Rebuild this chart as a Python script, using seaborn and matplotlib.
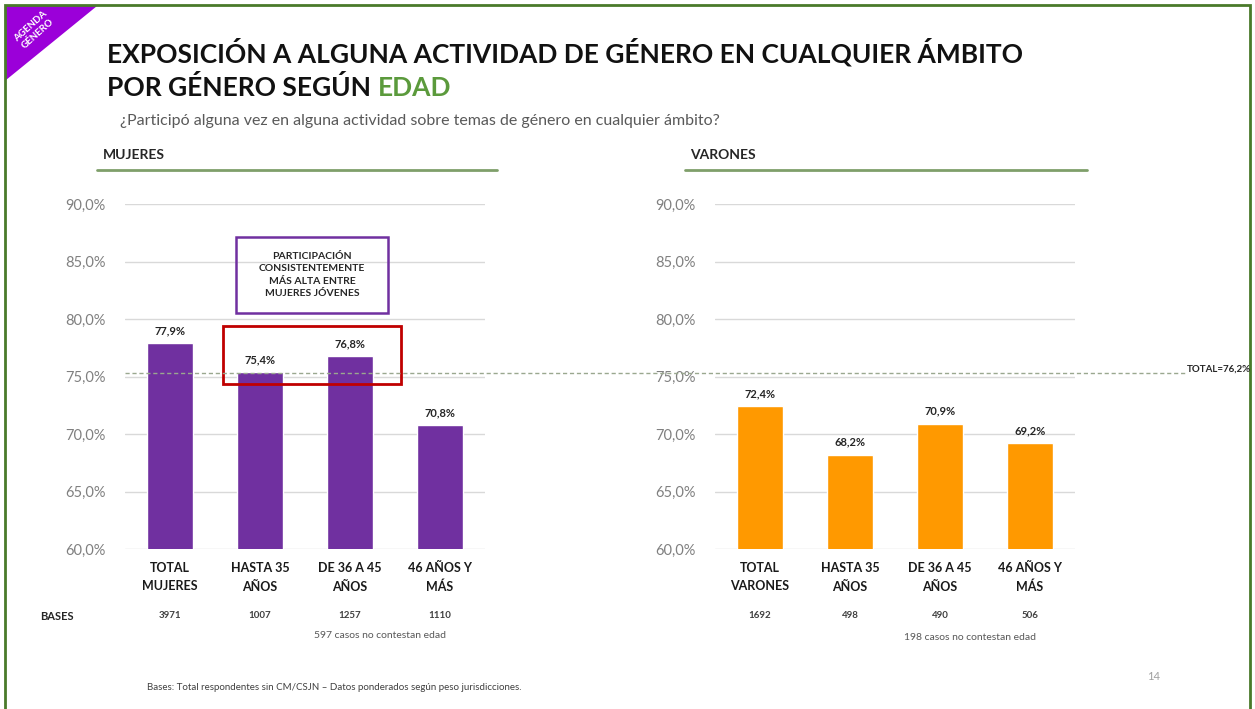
import matplotlib
matplotlib.use("Agg")
import matplotlib.pyplot as plt
import matplotlib.transforms as mtransforms
import seaborn as sns
import pandas as pd
from matplotlib.patches import Rectangle, Polygon

# data
categories = ["TOTAL\nMUJERES", "HASTA 35\nAÑOS", "DE 36 A 45\nAÑOS", "46 AÑOS Y\nMÁS"]
categories_v = ["TOTAL\nVARONES", "HASTA 35\nAÑOS", "DE 36 A 45\nAÑOS", "46 AÑOS Y\nMÁS"]
mujeres = [77.9, 75.4, 76.8, 70.8]
varones = [72.4, 68.2, 70.9, 69.2]
bases_mujeres = [3971, 1007, 1257, 1110]
bases_varones = [1692, 498, 490, 506]
total_label = "TOTAL=76,2%"
total_line_level = 75.3
yticks = [60, 65, 70, 75, 80, 85, 90]

PURPLE = "#7030a0"
ORANGE = "#ff9900"
GREEN = "#5b9a3c"
GRAY = "#808080"

sns.set_style("white")
plt.rcParams["font.family"] = ["Lato", "DejaVu Sans"]

fig = plt.figure(figsize=(12.55, 7.09), dpi=100)
W, H = 1255, 709

def fx(x):
    return x / W

def fy(y):
    return 1 - y / H

def pct(v):
    return f"{v:.1f}%".replace(".", ",")

def panel(x0, cats, vals, color):
    ax = fig.add_axes([fx(x0), fy(549), 360 / W, 345 / H])
    df = pd.DataFrame({"cat": cats, "val": vals})
    sns.barplot(data=df, x="cat", y="val", color=color, width=0.51,
                saturation=1, ax=ax)
    ax.set_ylim(60, 90)
    ax.set_xlim(-0.5, 3.5)
    ax.set_yticks(yticks)
    ax.set_yticklabels([pct(t) for t in yticks], color=GRAY, fontsize=10.5)
    ax.set_xticks(range(len(cats)))
    ax.set_xticklabels(cats, fontweight="bold", fontsize=9, linespacing=1.7,
                       color="#1a1a1a")
    ax.set_xlabel("")
    ax.set_ylabel("")
    ax.tick_params(axis="x", length=0, pad=9)
    ax.tick_params(axis="y", length=0, pad=14)
    ax.grid(axis="y", color="#d9d9d9", linewidth=1)
    ax.set_axisbelow(True)
    sns.despine(ax=ax, left=True, bottom=True)
    ax.bar_label(ax.containers[0], labels=[pct(v) for v in vals],
                 fontsize=8, fontweight="bold", padding=5)
    return ax

ax1 = panel(125, categories, mujeres, PURPLE)
ax2 = panel(715, categories_v, varones, ORANGE)

# dashed total line across both panels (drawn at the level of the left axis)
trans = mtransforms.blended_transform_factory(fig.transFigure, ax1.transData)
fig.add_artist(plt.Line2D([fx(125), fx(1185)], [total_line_level, total_line_level],
                          transform=trans, color="#9aa88f",
                          linestyle=(0, (3, 2)), linewidth=1))
fig.text(fx(1187), fy(369), total_label, fontsize=7, fontweight="bold",
         va="center", ha="left")

# annotation boxes on the left panel
fig.add_artist(Rectangle((fx(236), fy(313)), 152 / W, 76 / H,
                         transform=fig.transFigure, fill=False,
                         edgecolor="#7030a0", linewidth=1.8))
fig.text(fx(312), fy(275), "PARTICIPACIÓN\nCONSISTENTEMENTE\nMÁS ALTA ENTRE\nMUJERES JÓVENES",
         ha="center", va="center", fontsize=7.5, fontweight="bold",
         linespacing=1.45)
fig.add_artist(Rectangle((fx(223), fy(384)), 178 / W, 58 / H,
                         transform=fig.transFigure, fill=False,
                         edgecolor="#c00000", linewidth=2))

# bases rows
fig.text(fx(40), fy(616), "BASES", fontsize=8, fontweight="bold", va="center")
for ax, bases in [(ax1, bases_mujeres), (ax2, bases_varones)]:
    tr = mtransforms.blended_transform_factory(ax.transData, fig.transFigure)
    for i, b in enumerate(bases):
        ax.text(i, fy(616), str(b), transform=tr, ha="center", va="center",
                fontsize=7, fontweight="bold", color="#404040", clip_on=False)
fig.text(fx(380), fy(636), "597 casos no contestan edad", fontsize=7.5,
         color="#595959", ha="center", va="center")
fig.text(fx(970), fy(638), "198 casos no contestan edad", fontsize=7.5,
         color="#595959", ha="center", va="center")

# titles
fig.text(fx(107), fy(52), "EXPOSICIÓN A ALGUNA ACTIVIDAD DE GÉNERO EN CUALQUIER ÁMBITO",
         fontsize=19, fontweight="bold", va="center", color="#111111")
t2 = fig.text(fx(107), fy(88), "POR GÉNERO SEGÚN ", fontsize=19,
              fontweight="bold", va="center", color="#111111")
fig.canvas.draw()
bb = t2.get_window_extent()
fig.text(bb.x1 / W, fy(88), "EDAD", fontsize=19, fontweight="bold",
         va="center", color=GREEN)
fig.text(fx(120), fy(121),
         "¿Participó alguna vez en alguna actividad sobre temas de género en cualquier ámbito?",
         fontsize=11.5, color="#595959", va="center")

fig.text(fx(103), fy(155), "MUJERES", fontsize=10, fontweight="bold", va="center")
fig.text(fx(690), fy(155), "VARONES", fontsize=10, fontweight="bold", va="center")
fig.add_artist(plt.Line2D([fx(97), fx(497)], [fy(170), fy(170)],
                          transform=fig.transFigure, color="#7f9f6a", linewidth=2))
fig.add_artist(plt.Line2D([fx(685), fx(1087)], [fy(170), fy(170)],
                          transform=fig.transFigure, color="#7f9f6a", linewidth=2))

# footer
fig.text(fx(147), fy(687),
         "Bases: Total respondentes sin CM/CSJN – Datos ponderados según peso jurisdicciones.",
         fontsize=7, color="#404040", va="center")
fig.text(fx(1147), fy(677), "14", fontsize=8, color="#a0a0a0", va="center")

# corner tag and frame
fig.add_artist(Polygon([(fx(6), fy(6)), (fx(97), fy(6)), (fx(6), fy(80))],
                       closed=True, transform=fig.transFigure,
                       facecolor="#9b00d9", edgecolor="none"))
fig.text(fx(34), fy(30), "AGENDA\nGÉNERO", rotation=42, color="white",
         fontsize=7, fontweight="bold", ha="center", va="center",
         linespacing=1.2)
fig.add_artist(Rectangle((fx(5), fy(715)), 1245 / W, 710 / H,
                         transform=fig.transFigure, fill=False,
                         edgecolor="#4a7a2a", linewidth=2))

fig.savefig("out.png", dpi=100)
